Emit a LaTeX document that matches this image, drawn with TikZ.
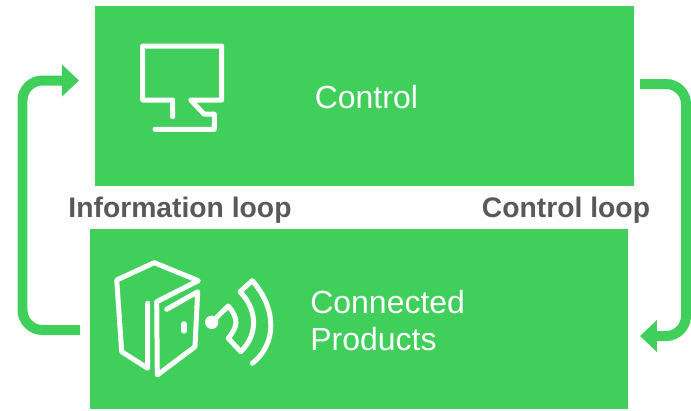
\documentclass[tikz,border=0pt]{standalone}
\usepackage{fontspec}
\setmainfont{Liberation Sans}
\usepackage{xcolor}
\usetikzlibrary{calc, arrows.meta}
\definecolor{loopgreen}{HTML}{41CF5C}
\definecolor{labelgray}{HTML}{595959}
\tikzset{
  greenbox/.style={fill=loopgreen,inner sep=0pt,minimum width=10.78cm,minimum height=3.6cm},
  boxtext/.style={text=white,inner sep=0pt,anchor=west,align=left,font=\fontsize{18.2}{21.3}\selectfont},
  looplabel/.style={text=labelgray,inner sep=0pt,font=\fontsize{16.1}{19}\selectfont\bfseries},
  looparrow/.style={draw=loopgreen,line width=0.2cm,rounded corners=0.4cm},
  looptip/.style={-{Triangle[length=0.34cm,width=0.62cm]}},
  iconline/.style={draw=white,line width=0.1cm,line cap=round,line join=round}
}

\begin{document}
\begin{tikzpicture}[x=0.02cm,y=-0.02cm]
\useasboundingbox (0,0) rectangle (691,410);
\node[greenbox] (control) at (364.5,96){};
\node[greenbox] (products) at (359,319){};
\node[boxtext] (controltext) at (314.5,97){Control};
\node[boxtext] (productstext) at (310,320.5){Connected\\Products};
\node[looplabel] (infolabel) at (180,210.5){Information loop};
\node[looplabel] (controllabel) at (566,210.5){Control loop};
\coordinate (infostart) at (80,330);
\coordinate (inforail) at (22.5,200);
\coordinate (infoend) at (79,80.5);
\coordinate (ctrlstart) at (640,84);
\coordinate (ctrlrail) at (686,200);
\coordinate (ctrlend) at (640,336);
\draw [looparrow,looptip] (infostart) -| (inforail) |- (infoend);
\draw [looparrow,looptip] (ctrlstart) -| (ctrlrail) |- (ctrlend);
% monitor
\draw [iconline] (172.7,116.7) -- (172.7,100) -- (142.7,100) -- (142.7,46) -- (221.7,46) -- (221.7,100) -- (190.7,100) -- (204,114) -- (214.3,114) -- (214.3,129.3) -- (155,129.3);
% door
\draw [iconline] (147.7,303.3) -- (147.7,368.3) -- (121.7,351.7) -- (116.7,280) -- (154.3,262.7) -- (198.3,280.7) -- (156.7,301.7) -- (157.3,375) -- (195,346.7) -- (197.7,291.7) -- (166.7,309.3);
\draw [iconline,line width=0.11cm] (184,324) -- (184,331);
% signal
\fill [white] (211.7,322.3) circle (6.7);
\draw [iconline] (211.7,322.3) -- (228.3,306) .. controls (239,319) and (238,326) .. (228.3,338.3) -- (240.7,351.7) .. controls (258,335) and (258,310) .. (240,291.7) -- (252.3,280.7) .. controls (278,310) and (276,345) .. (252.3,363.3);
\end{tikzpicture}
\end{document}
